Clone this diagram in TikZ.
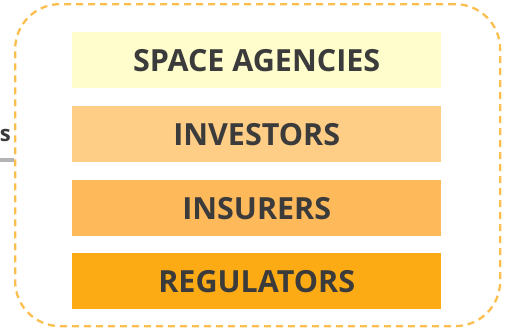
\documentclass[tikz,border=0pt]{standalone}
\usepackage{fontspec}
\setmainfont{Open Sans}
\definecolor{txt}{HTML}{3B3B3B}
\definecolor{cA}{HTML}{FEFDCB}
\definecolor{cB}{HTML}{FECD86}
\definecolor{cC}{HTML}{FEB95B}
\definecolor{cD}{HTML}{FDAB14}
\definecolor{dash}{HTML}{FBBF50}
\definecolor{link}{HTML}{B4B4B4}
\begin{document}
\begin{tikzpicture}[x=1pt,y=-1pt,
  bar/.style={draw=none, minimum width=369pt, minimum height=56pt, inner sep=0pt,
    font=\fontsize{30.5}{31}\selectfont\bfseries, text=txt, anchor=north west}]
\useasboundingbox (0,0) rectangle (513,332);
\node[draw=dash, dash pattern=on 7pt off 5pt, line width=2.3pt, rounded corners=45pt,
  minimum width=485pt, minimum height=322pt, anchor=north west, inner sep=0pt] (frame) at (14,3) {};
\node[bar, fill=cA] (b1) at (72,32) {SPACE AGENCIES};
\node[bar, fill=cB] (b2) at (72,106) {INVESTORS};
\node[bar, fill=cC] (b3) at (72,180) {INSURERS};
\node[bar, fill=cD] (b4) at (72,253) {REGULATORS};
\node[anchor=base east, font=\fontsize{22}{23}\selectfont\bfseries, text=txt, inner sep=0pt] (lbl) at (11,141) {s};
\coordinate (src) at (-2,160);
\draw[link, line width=3.5pt] (src) -- (src -| frame.west);
\end{tikzpicture}
\end{document}
